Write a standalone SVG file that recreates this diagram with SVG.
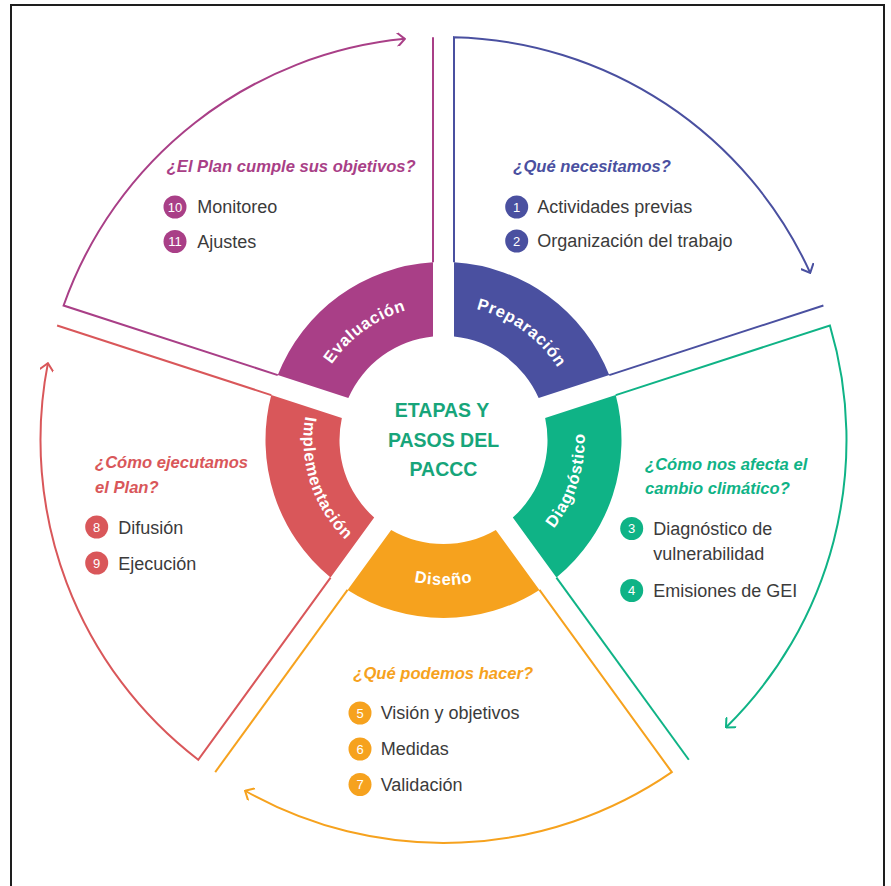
<svg xmlns="http://www.w3.org/2000/svg" width="891" height="886" viewBox="0 0 891 886">
<style>
.q{font-family:"Liberation Sans",Arial,sans-serif;font-weight:bold;font-style:italic;font-size:16.6px}
.it{font-family:"Liberation Sans",Arial,sans-serif;font-size:18px;fill:#3b3b3b}
.num{font-family:"Liberation Sans",Arial,sans-serif;font-size:13px;fill:#ffffff;text-anchor:middle}
.lbl{font-family:"Liberation Sans",Arial,sans-serif;font-weight:bold;font-size:16.5px;fill:#ffffff;letter-spacing:0.7px}
.ctr{font-family:"Liberation Sans",Arial,sans-serif;font-weight:bold;font-size:19.5px;fill:#17a57a;text-anchor:middle}
.ln{fill:none;stroke-width:2}
.mg{fill:#a93f87}.mgs{stroke:#a93f87}
.bl{fill:#4a50a0}.bls{stroke:#4a50a0}
.gr{fill:#0fb386}.grs{stroke:#0fb386}
.or{fill:#f6a21e}.ors{stroke:#f6a21e}
.rd{fill:#d9575a}.rds{stroke:#d9575a}
</style>
<defs>
<marker id="amg" viewBox="0 0 12 14" refX="11" refY="7" markerWidth="12" markerHeight="14" markerUnits="userSpaceOnUse" orient="auto"><path d="M4,0.5 L11,7 L4,13.5" fill="none" stroke="#a93f87" stroke-width="2" stroke-linecap="round"/></marker>
<marker id="abl" viewBox="0 0 12 14" refX="11" refY="7" markerWidth="12" markerHeight="14" markerUnits="userSpaceOnUse" orient="auto"><path d="M4,0.5 L11,7 L4,13.5" fill="none" stroke="#4a50a0" stroke-width="2" stroke-linecap="round"/></marker>
<marker id="agr" viewBox="0 0 12 14" refX="11" refY="7" markerWidth="12" markerHeight="14" markerUnits="userSpaceOnUse" orient="auto"><path d="M4,0.5 L11,7 L4,13.5" fill="none" stroke="#0fb386" stroke-width="2" stroke-linecap="round"/></marker>
<marker id="aor" viewBox="0 0 12 14" refX="11" refY="7" markerWidth="12" markerHeight="14" markerUnits="userSpaceOnUse" orient="auto"><path d="M4,0.5 L11,7 L4,13.5" fill="none" stroke="#f6a21e" stroke-width="2" stroke-linecap="round"/></marker>
<marker id="ard" viewBox="0 0 12 14" refX="11" refY="7" markerWidth="12" markerHeight="14" markerUnits="userSpaceOnUse" orient="auto"><path d="M4,0.5 L11,7 L4,13.5" fill="none" stroke="#d9575a" stroke-width="2" stroke-linecap="round"/></marker>
<path id="pEva" d="M312.51,407.34 A135,135 0 0 1 452.92,305.33"/>
<path id="pPre" d="M434.08,305.33 A135,135 0 0 1 574.49,407.34"/>
<path id="pDia" d="M518.4,559.9 A141,141 0 0 0 574.2,387.2"/>
<path id="pDis" d="M350.30,551.08 A145,145 0 0 0 536.70,551.08"/>
<path id="pImp" d="M313.7,387.6 A140,140 0 0 0 369.3,558.7"/>
</defs>

<rect x="0" y="0" width="891" height="886" fill="#ffffff"/>
<rect id="frame" x="11" y="5" width="873" height="900" fill="none" stroke="#1e1e1e" stroke-width="2"/>

<g id="connectors">
  <path class="ln bls" d="M454,262.31 L454,37.14 A403,403 0 0 1 810.21,272.88" marker-end="url(#abl)"/>
  <path class="ln bls" d="M609.25,375.10 L823.40,305.52"/>
  <path class="ln grs" d="M615.74,395.08 L829.89,325.49 A403,403 0 0 1 725.97,727.44" marker-end="url(#agr)"/>
  <path class="ln grs" d="M556.44,577.58 L688.80,759.75"/>
  <path class="ln ors" d="M539.45,589.92 L671.80,772.09 A403,403 0 0 1 245.05,790.75" marker-end="url(#aor)"/>
  <path class="ln ors" d="M347.56,589.92 L215.20,772.09"/>
  <path class="ln rds" d="M330.56,577.58 L198.21,759.75 A403,403 0 0 1 47.9,363.1" marker-end="url(#ard)"/>
  <path class="ln rds" d="M271.26,395.08 L57.11,325.49"/>
  <path class="ln mgs" d="M277.76,375.10 L63.60,305.52 A403,403 0 0 1 404.87,38.85" marker-end="url(#amg)"/>
  <path class="ln mgs" d="M433,262.31 L433,37.14"/>
</g>

<g id="center">
  <text class="ctr" x="442" y="417">ETAPAS Y</text>
  <text class="ctr" x="443.5" y="447">PASOS DEL</text>
  <text class="ctr" x="443.5" y="476">PACCC</text>
</g>

<g id="preparacion">
  <path class="bl" d="M454,262.31 A178,178 0 0 1 609.25,375.10 L538.66,398.04 A104,104 0 0 0 454,336.53 Z"/>
  <text class="lbl"><textPath href="#pPre" startOffset="50%" text-anchor="middle">Preparación</textPath></text>
  <text class="q" x="513.3" y="172" fill="#4a50a0">¿Qué necesitamos?</text>
  <circle class="bl" cx="516.7" cy="207" r="11.5"/>
  <text class="num" x="516.7" y="211.5">1</text>
  <text class="it" x="537.3" y="213">Actividades previas</text>
  <circle class="bl" cx="516.7" cy="241" r="11.5"/>
  <text class="num" x="516.7" y="245.5">2</text>
  <text class="it" x="537.3" y="247">Organización del trabajo</text>
</g>

<g id="diagnostico">
  <path class="gr" d="M615.74,395.08 A178,178 0 0 1 556.44,577.58 L512.82,517.54 A104,104 0 0 0 545.15,418.01 Z"/>
  <text class="lbl"><textPath href="#pDia" startOffset="50%" text-anchor="middle">Diagnóstico</textPath></text>
  <text class="q" x="645" y="469.5" fill="#0fb386">¿Cómo nos afecta el</text>
  <text class="q" x="645" y="493.5" fill="#0fb386">cambio climático?</text>
  <circle class="gr" cx="631.7" cy="528.5" r="11.5"/>
  <text class="num" x="631.7" y="533">3</text>
  <text class="it" x="653.3" y="535">Diagnóstico de</text>
  <text class="it" x="653.3" y="560">vulnerabilidad</text>
  <circle class="gr" cx="631.7" cy="590.5" r="11.5"/>
  <text class="num" x="631.7" y="595">4</text>
  <text class="it" x="653.3" y="597">Emisiones de GEI</text>
</g>

<g id="diseno">
  <path class="or" d="M539.45,589.92 A178,178 0 0 1 347.56,589.92 L391.18,529.88 A104,104 0 0 0 495.83,529.88 Z"/>
  <text class="lbl"><textPath href="#pDis" startOffset="50%" text-anchor="middle">Diseño</textPath></text>
  <text class="q" x="353.3" y="678.5" fill="#f6a21e">¿Qué podemos hacer?</text>
  <circle class="or" cx="360" cy="713" r="11.5"/>
  <text class="num" x="360" y="717.5">5</text>
  <text class="it" x="380.7" y="719">Visión y objetivos</text>
  <circle class="or" cx="360" cy="749" r="11.5"/>
  <text class="num" x="360" y="753.5">6</text>
  <text class="it" x="380.7" y="755">Medidas</text>
  <circle class="or" cx="360" cy="784.5" r="11.5"/>
  <text class="num" x="360" y="789">7</text>
  <text class="it" x="380.7" y="790.5">Validación</text>
</g>

<g id="implementacion">
  <path class="rd" d="M330.56,577.58 A178,178 0 0 1 271.26,395.08 L341.85,418.01 A104,104 0 0 0 374.19,517.54 Z"/>
  <text class="lbl"><textPath href="#pImp" startOffset="50%" text-anchor="middle">Implementación</textPath></text>
  <text class="q" x="95" y="468" fill="#d9575a">¿Cómo ejecutamos</text>
  <text class="q" x="95" y="493" fill="#d9575a">el Plan?</text>
  <circle class="rd" cx="96.7" cy="527" r="11.5"/>
  <text class="num" x="96.7" y="531.5">8</text>
  <text class="it" x="118.3" y="533.5">Difusión</text>
  <circle class="rd" cx="96.7" cy="563" r="11.5"/>
  <text class="num" x="96.7" y="567.5">9</text>
  <text class="it" x="118.3" y="569.5">Ejecución</text>
</g>

<g id="evaluacion">
  <path class="mg" d="M277.76,375.10 A178,178 0 0 1 433,262.31 L433,336.53 A104,104 0 0 0 348.34,398.04 Z"/>
  <text class="lbl"><textPath href="#pEva" startOffset="50%" text-anchor="middle">Evaluación</textPath></text>
  <text class="q" x="166.7" y="172" fill="#a93f87">¿El Plan cumple sus objetivos?</text>
  <circle class="mg" cx="175" cy="207" r="11.5"/>
  <text class="num" x="175" y="211.5">10</text>
  <text class="it" x="197.3" y="213">Monitoreo</text>
  <circle class="mg" cx="175" cy="241.5" r="11.5"/>
  <text class="num" x="175" y="246">11</text>
  <text class="it" x="197.3" y="247.5">Ajustes</text>
</g>
</svg>
